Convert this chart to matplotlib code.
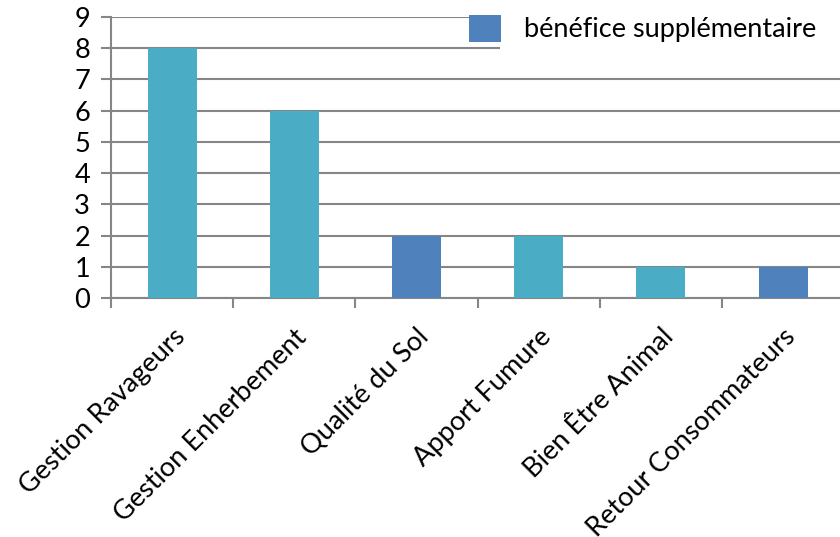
import matplotlib.pyplot as plt
from matplotlib.patches import Patch, Rectangle

categories = [
    "Gestion Ravageurs",
    "Gestion Enherbement",
    "Qualité du Sol",
    "Apport Fumure",
    "Bien Être Animal",
    "Retour Consommateurs",
]
values = [8, 6, 2, 2, 1, 1]
# True -> bénéfice supplémentaire, False -> bénéfice principal
supplementaire = [False, False, True, False, False, True]
legend_label = "bénéfice supplémentaire"

TEAL = "#4BACC6"
BLUE = "#4F81BD"
GREY = "#868686"

plt.rcParams["font.family"] = ["Lato", "DejaVu Sans"]

fig = plt.figure(figsize=(8.4, 5.37), dpi=100)
ax = fig.add_axes([0.1321, 0.4451, 0.8729, 0.5232])

centers = [i + 0.5 for i in range(len(categories))]
colors = [BLUE if s else TEAL for s in supplementaire]
ax.bar(centers, values, width=0.4, color=colors, zorder=3)

ax.set_xlim(0, len(categories))
ax.set_ylim(0, 9)
ax.set_yticks(range(0, 10))
ax.grid(axis="y", color=GREY, linewidth=1.5, zorder=0)

# category boundaries get the tick marks, labels sit at the bar centres
ax.set_xticks(range(len(categories) + 1))
ax.set_xticklabels([])
ax.set_xticks(centers, minor=True)
ax.set_xticklabels(categories, minor=True, rotation=45, ha="right",
                   rotation_mode="anchor", fontsize=19.5)
ax.tick_params(axis="x", which="minor", length=0, pad=19)
ax.tick_params(axis="x", which="major", length=7, width=1.5, color=GREY)
ax.tick_params(axis="y", length=7, width=1.5, color=GREY, labelsize=19.5, pad=8)

for side in ("top", "right"):
    ax.spines[side].set_visible(False)
for side in ("left", "bottom"):
    ax.spines[side].set_color(GREY)
    ax.spines[side].set_linewidth(1.5)

# white box behind the legend hides the grid underneath
ax.add_patch(Rectangle((0.53, 0.84), 0.6, 0.25, transform=ax.transAxes,
                       facecolor="white", edgecolor="none", zorder=4,
                       clip_on=False))

fig.legend(handles=[Patch(facecolor=BLUE, label=legend_label)],
           loc="center left", bbox_to_anchor=(0.558, 0.947),
           frameon=False, fontsize=19.5, handlelength=1.2, handleheight=1.15,
           handletextpad=0.85, borderpad=0, borderaxespad=0)

fig.savefig("out.png", dpi=100)
